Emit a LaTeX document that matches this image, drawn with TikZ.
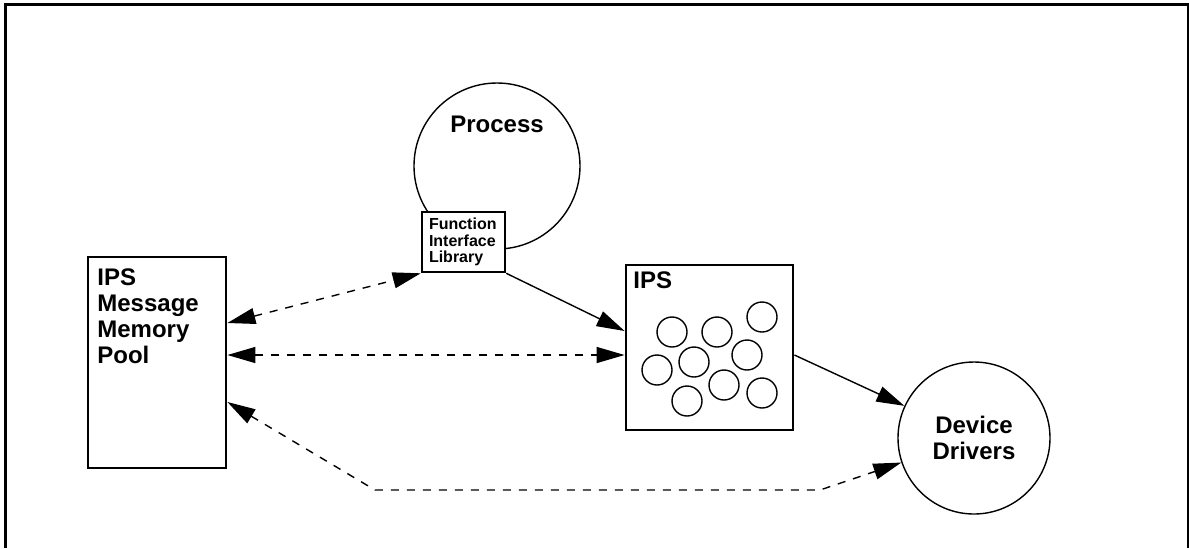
\documentclass[tikz,border=0pt]{standalone}
\usepackage{fontspec}
\setmainfont{Liberation Sans}
\usetikzlibrary{arrows.meta}

\begin{document}
\begin{tikzpicture}[x=0.5pt, y=-0.5pt,
        tip/.style={-{Triangle[length=14pt,width=8pt]}},
        twotip/.style={{Triangle[length=14pt,width=8pt]}-{Triangle[length=14pt,width=8pt]}},
        dashline/.style={dash pattern=on 4pt off 4pt, line width=0.7pt},
        label text/.style={font=\bfseries\fontsize{12}{13}\selectfont, align=left, inner sep=0pt},
        ball/.style={circle, draw, line width=0.7pt, minimum size=15pt, inner sep=0pt}]
            \useasboundingbox (0,0) rectangle (1189,548);
            % Frame
            \draw[line width=1.3pt] (5.5,548) -- (5.5,4.5) -- (1188,4.5) -- (1188,548);

            % Nodes
            \node[circle, draw, line width=0.7pt, minimum size=83pt, inner sep=0pt] (proc) at (497,166) {};
            \node[label text] (proctext) at (497,124) {Process};
            \node[rectangle, draw, fill=white, line width=1.3pt, minimum height=30pt, text width=34.5pt, inner xsep=3.5pt, inner ysep=0pt, align=left, font=\bfseries\fontsize{8}{8.4}\selectfont] (fil) at (463.5,242) {Function\\Interface\\Library};
            \node[rectangle, draw, line width=1.4pt, minimum width=69pt, minimum height=105.5pt] (pool) at (157,362.5) {};
            \node[label text, anchor=north west] (pooltext) at (97,268) {IPS\\Message\\Memory\\Pool};
            \node[rectangle, draw, line width=1.4pt, minimum width=83.5pt, minimum height=82.5pt] (ips) at (709.5,347.5) {};
            \node[label text, anchor=north west] (ipstext) at (633,271) {IPS};
            \foreach \n/\cx/\cy in {1/672/332, 2/717/332, 3/762/317, 4/657/370, 5/694/362,
                                    6/747/355, 7/687/401, 8/724/385, 9/762/393}
                \node[ball] (msg\n) at (\cx,\cy) {};
            \node[circle, draw, line width=0.7pt, minimum size=76pt, label text, align=center] (dev) at (974,438) {Device\\Drivers};

            % Edges
            \draw[dashline, twotip] (pool.east |- 0,323) -- (fil.south west);
            \draw[dashline, twotip] (pool.east |- 0,355) -- (ips.west |- 0,355);
            \draw[line width=0.7pt, tip] (fil.south east) -- (ips.west |- 0,331);
            \draw[line width=0.7pt, tip] (ips.east |- 0,355) -- (dev);
            \draw[dashline, twotip] (pool.east |- 0,402) -- (375,490) -- (820,490) -- (dev);
        \end{tikzpicture}
\end{document}
